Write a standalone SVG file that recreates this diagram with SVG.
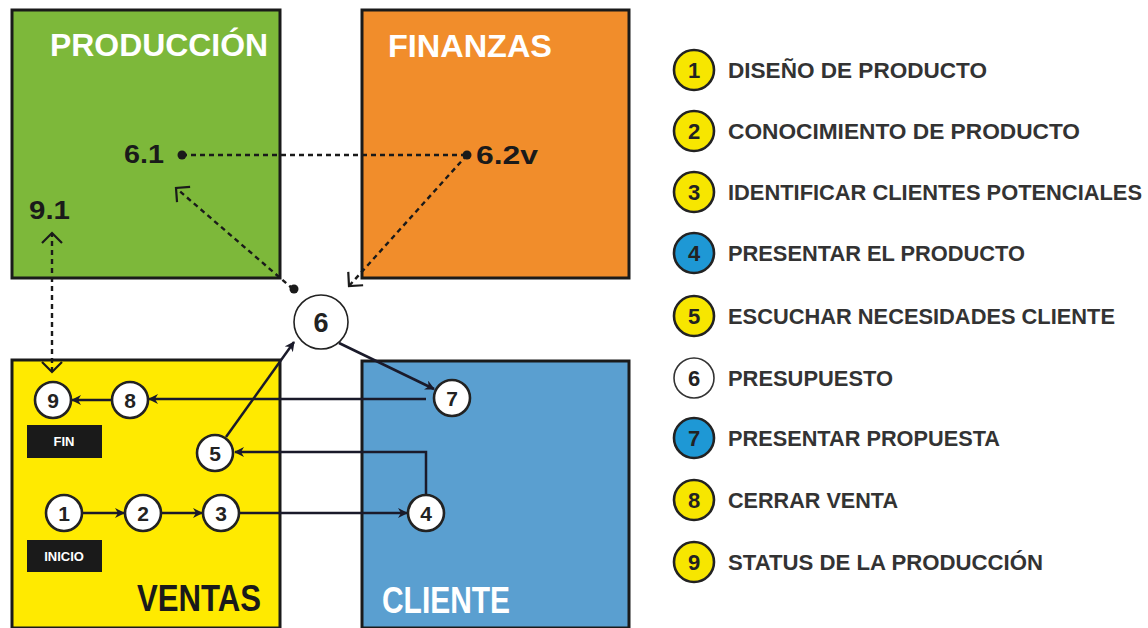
<svg xmlns="http://www.w3.org/2000/svg" width="1148" height="628" viewBox="0 0 1148 628">
<defs>
<style>
.box{stroke:#1a1a1a;stroke-width:3}
.title{font-family:"Liberation Sans",Arial,sans-serif;font-weight:bold}
.num{font-family:"Liberation Sans",Arial,sans-serif;font-weight:bold;font-size:21px;fill:#222;text-anchor:middle}
.big{font-size:27px}
.lnum{font-size:22px}
.node{fill:#fff;stroke:#222;stroke-width:2.6}
.lab{font-family:"Liberation Sans",Arial,sans-serif;font-weight:bold;font-size:25px;fill:#1a1a1a}
.leg{font-family:"Liberation Sans",Arial,sans-serif;font-weight:bold;font-size:22px;fill:#333}
.lc{stroke:#222;stroke-width:2.6}
.solid{fill:none;stroke:#1a1a2a;stroke-width:2.5}
.dash{fill:none;stroke:#1a1a1a;stroke-width:2.4;stroke-dasharray:5 4}
.tag{fill:#1a1a1a}
.tagt{font-family:"Liberation Sans",Arial,sans-serif;font-weight:bold;font-size:13px;fill:#fff;text-anchor:middle}
</style>
<marker id="ah" viewBox="0 0 10 10" refX="9" refY="5" markerWidth="10" markerHeight="10" markerUnits="userSpaceOnUse" orient="auto">
<path d="M0,0 L10,5 L0,10 L3,5 z" fill="#1a1a2a"/>
</marker>
<marker id="ch" viewBox="-12 -12 14 24" refX="0" refY="0" markerWidth="14" markerHeight="24" markerUnits="userSpaceOnUse" orient="auto">
<path d="M-10,-10 L0,0 L-10,10" fill="none" stroke="#1a1a1a" stroke-width="2.2"/>
</marker>
<marker id="chs" viewBox="-12 -12 14 24" refX="0" refY="0" markerWidth="14" markerHeight="24" markerUnits="userSpaceOnUse" orient="auto-start-reverse">
<path d="M-10,-10 L0,0 L-10,10" fill="none" stroke="#1a1a1a" stroke-width="2.2"/>
</marker>
</defs>
<rect width="1148" height="628" fill="#fff"/>

<g id="produccion">
<rect class="box" x="12" y="10" width="268" height="268" fill="#7db83a"/>
<text class="title" x="50" y="56" font-size="31" fill="#fff" textLength="218" lengthAdjust="spacingAndGlyphs">PRODUCCIÓN</text>
<text class="lab" x="124" y="163" textLength="40" lengthAdjust="spacingAndGlyphs">6.1</text>
<text class="lab" x="29" y="219" textLength="41" lengthAdjust="spacingAndGlyphs">9.1</text>
</g>
<g id="finanzas">
<rect class="box" x="362" y="10" width="267" height="268" fill="#f18d2b"/>
<text class="title" x="388" y="57" font-size="31" fill="#fff" textLength="164" lengthAdjust="spacingAndGlyphs">FINANZAS</text>
<text class="lab" x="476" y="164" textLength="62" lengthAdjust="spacingAndGlyphs">6.2v</text>
</g>
<g id="ventas">
<rect class="box" x="12" y="360" width="268" height="268" fill="#ffea00"/>
<text class="title" x="137" y="611" font-size="37" fill="#1a1a1a" textLength="124" lengthAdjust="spacingAndGlyphs">VENTAS</text>
<rect class="tag" x="27" y="425" width="75" height="33"/>
<text class="tagt" x="64" y="446">FIN</text>
<rect class="tag" x="27" y="540" width="75" height="32"/>
<text class="tagt" x="64" y="561">INICIO</text>
</g>
<g id="cliente">
<rect class="box" x="362" y="361" width="267" height="267" fill="#5a9fd0"/>
<text class="title" x="382" y="613" font-size="36" fill="#fff" textLength="128" lengthAdjust="spacingAndGlyphs">CLIENTE</text>
</g>

<g id="connectors">
<path class="dash" d="M182,155 H467"/>
<path class="dash" d="M467,155 L349,286" marker-end="url(#ch)"/>
<path class="dash" d="M293,289 L176,188" marker-end="url(#ch)"/>
<path class="dash" d="M52,372 V233" marker-start="url(#chs)" marker-end="url(#ch)"/>
<path class="solid" d="M83,513 H124" marker-end="url(#ah)"/>
<path class="solid" d="M162,513 H202" marker-end="url(#ah)"/>
<path class="solid" d="M240,513 H407" marker-end="url(#ah)"/>
<path class="solid" d="M426,495 V452 H235" marker-end="url(#ah)"/>
<path class="solid" d="M226,437 L294,342" marker-end="url(#ah)"/>
<path class="solid" d="M339,343 L434,389" marker-end="url(#ah)"/>
<path class="solid" d="M426,399 H149" marker-end="url(#ah)"/>
<path class="solid" d="M112,400 H72" marker-end="url(#ah)"/>
<circle cx="182" cy="155" r="4.5" fill="#1a1a1a"/>
<circle cx="467" cy="155" r="4.5" fill="#1a1a1a"/>
<circle cx="294" cy="289" r="4.5" fill="#1a1a1a"/>
</g>

<g id="n1"><circle class="node" cx="64" cy="513" r="18"/><text class="num" x="64" y="521">1</text></g>
<g id="n2"><circle class="node" cx="143" cy="513" r="18"/><text class="num" x="143" y="521">2</text></g>
<g id="n3"><circle class="node" cx="221" cy="513" r="18"/><text class="num" x="221" y="521">3</text></g>
<g id="n4"><circle class="node" cx="426" cy="513" r="18"/><text class="num" x="426" y="521">4</text></g>
<g id="n5"><circle class="node" cx="215" cy="453" r="18"/><text class="num" x="215" y="461">5</text></g>
<g id="n6"><circle cx="321" cy="322" r="27" fill="#fff" stroke="#222" stroke-width="1.6"/><text class="num big" x="321" y="332">6</text></g>
<g id="n7"><circle class="node" cx="452" cy="398" r="18"/><text class="num" x="452" y="406">7</text></g>
<g id="n8"><circle class="node" cx="130" cy="400" r="18"/><text class="num" x="130" y="408">8</text></g>
<g id="n9"><circle class="node" cx="53" cy="400" r="18"/><text class="num" x="53" y="408">9</text></g>

<g id="legend">
<g id="l1"><circle class="lc" cx="694" cy="70" r="20" fill="#f7e600"/><text class="num lnum" x="694" y="78">1</text><text class="leg" x="728" y="78" textLength="259" lengthAdjust="spacingAndGlyphs">DISEÑO DE PRODUCTO</text></g>
<g id="l2"><circle class="lc" cx="694" cy="131" r="20" fill="#f7e600"/><text class="num lnum" x="694" y="139">2</text><text class="leg" x="728" y="139" textLength="352" lengthAdjust="spacingAndGlyphs">CONOCIMIENTO DE PRODUCTO</text></g>
<g id="l3"><circle class="lc" cx="694" cy="192" r="20" fill="#f7e600"/><text class="num lnum" x="694" y="200">3</text><text class="leg" x="728" y="200" textLength="414" lengthAdjust="spacingAndGlyphs">IDENTIFICAR CLIENTES POTENCIALES</text></g>
<g id="l4"><circle class="lc" cx="694" cy="253" r="20" fill="#1e98d5"/><text class="num lnum" x="694" y="261">4</text><text class="leg" x="728" y="261" textLength="297" lengthAdjust="spacingAndGlyphs">PRESENTAR EL PRODUCTO</text></g>
<g id="l5"><circle class="lc" cx="694" cy="316" r="20" fill="#f7e600"/><text class="num lnum" x="694" y="324">5</text><text class="leg" x="728" y="324" textLength="387" lengthAdjust="spacingAndGlyphs">ESCUCHAR NECESIDADES CLIENTE</text></g>
<g id="l6"><circle cx="694" cy="378" r="20" fill="#fff" stroke="#333" stroke-width="1.6"/><text class="num lnum" x="694" y="386">6</text><text class="leg" x="728" y="386" textLength="165" lengthAdjust="spacingAndGlyphs">PRESUPUESTO</text></g>
<g id="l7"><circle class="lc" cx="694" cy="438" r="20" fill="#1e98d5"/><text class="num lnum" x="694" y="446">7</text><text class="leg" x="728" y="446" textLength="272" lengthAdjust="spacingAndGlyphs">PRESENTAR PROPUESTA</text></g>
<g id="l8"><circle class="lc" cx="694" cy="500" r="20" fill="#f7e600"/><text class="num lnum" x="694" y="508">8</text><text class="leg" x="728" y="508" textLength="170" lengthAdjust="spacingAndGlyphs">CERRAR VENTA</text></g>
<g id="l9"><circle class="lc" cx="694" cy="562" r="20" fill="#f7e600"/><text class="num lnum" x="694" y="570">9</text><text class="leg" x="728" y="570" textLength="315" lengthAdjust="spacingAndGlyphs">STATUS DE LA PRODUCCIÓN</text></g>
</g>
</svg>
